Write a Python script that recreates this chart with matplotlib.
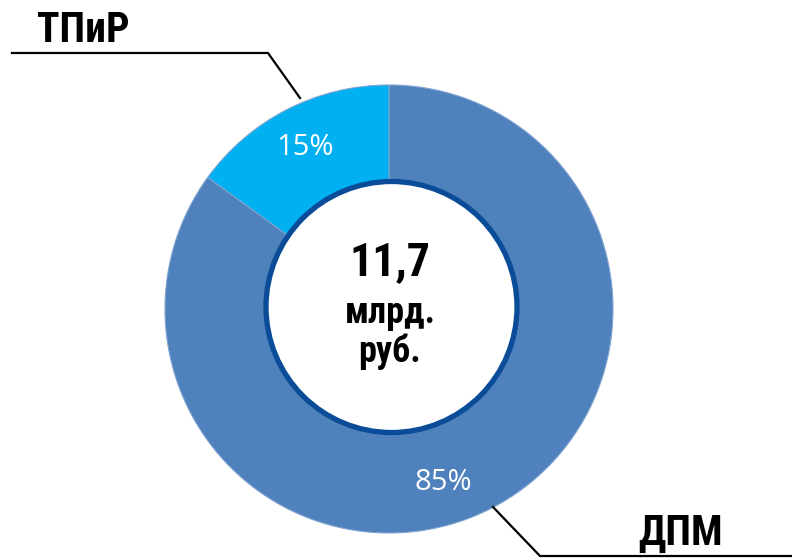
import numpy as np
import matplotlib.pyplot as plt

# data
labels = ["ДПМ", "ТПиР"]
shares = [85, 15]
colors = ["#4F81BD", "#00B0F0"]
total_text = ["11,7", "млрд.", "руб."]

narrow = ["Roboto Condensed", "PT Sans Narrow", "DejaVu Sans"]

W, H = 792, 558
fig = plt.figure(figsize=(W / 100, H / 100), dpi=100)
ax = fig.add_axes([0, 0, 1, 1])

cx, cy, R = 389, H - 309, 224
wedges, texts, autotexts = ax.pie(
    shares, colors=colors, radius=R, center=(cx, cy),
    startangle=90, counterclock=False,
    autopct="%1.0f%%", pctdistance=0.81,
    wedgeprops=dict(linewidth=0.8, edgecolor="#7FA3D0"),
    textprops=dict(color="white", fontsize=21, family=["Open Sans", "DejaVu Sans"]))

# Excel puts the big slice label a bit off the middle angle
pct_angles = [-72.7, 117.4]
for t, a in zip(autotexts, pct_angles):
    r = 0.81 * R
    t.set_position((cx + r * np.cos(np.radians(a)), cy + r * np.sin(np.radians(a))))

ax.set_xlim(0, W)
ax.set_ylim(0, H)
ax.set_aspect("equal")
ax.axis("off")

# hole with dark blue rim
hole = plt.Circle((391.5, H - 307), 125.5, facecolor="white",
                  edgecolor="#0A4C98", linewidth=3.8, zorder=5)
ax.add_patch(hole)

ax.text(390, H - 262, total_text[0], ha="center", va="center", fontsize=33,
        fontweight="bold", family=narrow, zorder=6)
ax.text(390, H - 313, total_text[1], ha="center", va="center", fontsize=26,
        fontweight="bold", family=narrow, zorder=6)
ax.text(390, H - 352, total_text[2], ha="center", va="center", fontsize=26,
        fontweight="bold", family=narrow, zorder=6)

# leader lines and category labels
ax.plot([300, 268, 12], [H - 98, H - 53, H - 53], color="black", lw=1.6, zorder=4)
ax.text(83, H - 31, labels[1], ha="center", va="center", fontsize=30,
        fontweight="bold", family=narrow)

ax.plot([493, 540, 792], [H - 507, H - 556, H - 556], color="black", lw=1.6, zorder=4)
ax.text(681, H - 533, labels[0], ha="center", va="center", fontsize=30,
        fontweight="bold", family=narrow)

fig.savefig("out.png", dpi=100)
